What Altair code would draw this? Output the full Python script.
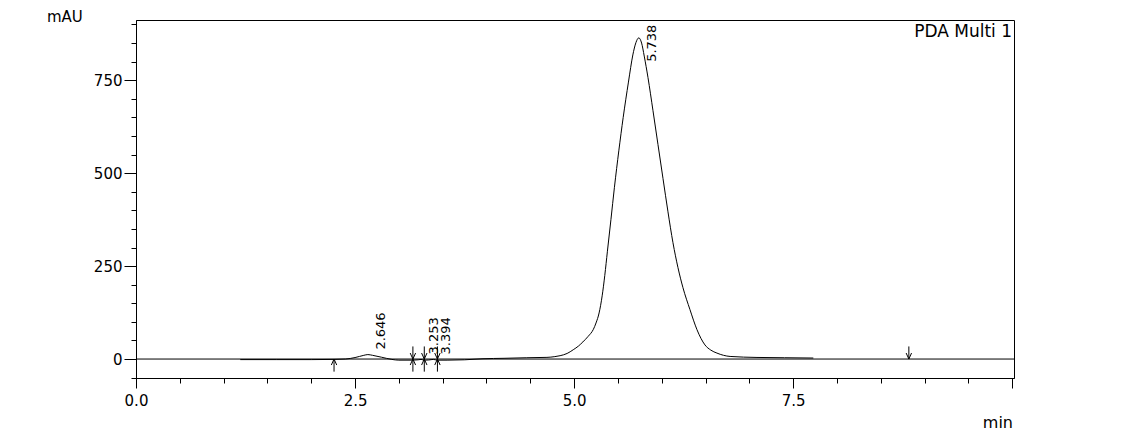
import altair as alt
import pandas as pd

# ---- data ----
times = [1.19, 1.6, 2.0, 2.26, 2.39, 2.50, 2.60, 2.646, 2.70, 2.80,
         2.92, 3.00, 3.16, 3.22, 3.253, 3.29, 3.34, 3.394, 3.44, 3.55,
         3.75, 3.96, 4.20, 4.46, 4.69, 4.78, 4.84, 4.92, 4.99, 5.05,
         5.10, 5.16, 5.22, 5.25, 5.285, 5.32, 5.35, 5.38, 5.42, 5.46,
         5.51, 5.56, 5.62, 5.67, 5.705, 5.738, 5.77, 5.80, 5.843, 5.90,
         5.957, 6.014, 6.071, 6.128, 6.185, 6.242, 6.322, 6.402, 6.493, 6.56,
         6.63, 6.78, 7.087, 7.40, 7.73]
signal = [-1.5, -1.5, -1.5, -1, 0, 4, 10, 12, 10, 5,
          -1, -3, -3, -2, -1, -3, -2.5, -1, -3, -3,
          -2, 0.8, 2, 3.5, 4.5, 6.5, 9, 15, 25, 35,
          46, 61, 80, 97, 124, 170, 225, 290, 375, 462,
          560, 650, 745, 818, 851, 864, 850, 815, 757, 668,
          577, 486, 396, 313, 246, 192, 133, 79, 38, 24,
          16, 7, 4.3, 3.5, 2.7]

peak_times = [2.646, 3.253, 3.394, 5.738]
peak_heights = [12, -1, -1, 864]
peak_labels = ["2.646", "3.253", "3.394", "5.738"]

down_marks = [3.16, 3.29, 3.44, 8.82]   # integration marks above baseline
up_marks = [2.26, 3.16, 3.29, 3.44]     # integration marks below baseline

x_ticks = [i * 0.5 for i in range(21)]
y_ticks = list(range(-50, 901, 50))
baseline_value = [0]

FONT = "DejaVu Sans"
X_DOMAIN = [0, 10.02]
Y_DOMAIN = [-51, 912]

sig_df = pd.DataFrame({"t": times, "v": signal})
peak_df = pd.DataFrame({"t": peak_times, "h": peak_heights, "label": peak_labels})
down_df = pd.DataFrame({"t": down_marks, "v": [0] * len(down_marks)})
up_df = pd.DataFrame({"t": up_marks, "v": [0] * len(up_marks)})
base_df = pd.DataFrame({"v": baseline_value})

xscale = alt.Scale(domain=X_DOMAIN, nice=False, zero=False)
yscale = alt.Scale(domain=Y_DOMAIN, nice=False, zero=False)

xaxis = alt.Axis(
    values=x_ticks,
    title="",
    grid=False,
    labelExpr="datum.value % 2.5 == 0 && datum.value < 10 ? format(datum.value, '.1f') : ''",
    tickSize={"condition": {"test": "datum.value % 2.5 == 0", "value": 10}, "value": 5},
    labelPadding=5,
    labelOverlap=False,
    labelFlush=False,
    labelFont=FONT,
    labelFontSize=15,
    labelColor="black",
    domainColor="black",
    tickColor="black",
)
yaxis = alt.Axis(
    values=y_ticks,
    title="",
    grid=False,
    labelExpr="datum.value % 250 == 0 ? format(datum.value, 'd') : ''",
    tickSize={"condition": {"test": "datum.value % 250 == 0", "value": 12}, "value": 5},
    labelPadding=2,
    labelOverlap=False,
    labelFlush=False,
    labelFont=FONT,
    labelFontSize=15,
    labelColor="black",
    domainColor="black",
    tickColor="black",
)


def X(field):
    return alt.X(field, type="quantitative", scale=xscale, axis=xaxis)


def Y(field):
    return alt.Y(field, type="quantitative", scale=yscale, axis=yaxis)


base_rule = alt.Chart(base_df).mark_rule(color="black", strokeWidth=1).encode(y=Y("v"))

line = alt.Chart(sig_df).mark_line(color="black", strokeWidth=1, interpolate="monotone").encode(
    x=X("t"), y=Y("v")
)

down_path = "M0,-2.1L0,0M-0.45,-1L0,0L0.45,-1"
up_path = "M0,2.1L0,0M-0.45,1L0,0L0.45,1"

down_pts = alt.Chart(down_df).mark_point(
    shape=down_path, size=144, filled=False, color="black", strokeWidth=1, opacity=1
).encode(x=X("t"), y=Y("v"))
up_pts = alt.Chart(up_df).mark_point(
    shape=up_path, size=144, filled=False, color="black", strokeWidth=1, opacity=1
).encode(x=X("t"), y=Y("v"))

labels = alt.Chart(peak_df).transform_calculate(
    ly="min(datum.h, 786)"
).mark_text(
    angle=270, align="left", baseline="middle", dx=5, dy=13,
    font=FONT, fontSize=13, color="black"
).encode(x=X("t"), y=Y("ly"), text="label:N")

mau = alt.Chart(base_df).mark_text(
    text="mAU", align="left", baseline="alphabetic", font=FONT, fontSize=15, color="black"
).encode(x=alt.value(-89), y=alt.value(2))
pda = alt.Chart(base_df).mark_text(
    text="PDA Multi 1", align="right", baseline="alphabetic", font=FONT, fontSize=17, color="black"
).encode(x=alt.value(876), y=alt.value(17))
mins = alt.Chart(base_df).mark_text(
    text="min", align="right", baseline="alphabetic", font=FONT, fontSize=16, color="black"
).encode(x=alt.value(877), y=alt.value(408))

chart = alt.layer(base_rule, line, down_pts, up_pts, labels, mau, pda, mins).properties(
    width=878,
    height=358,
    autosize=alt.AutoSizeParams(type="none"),
    padding={"left": 128, "top": 12, "right": 20, "bottom": 54},
    background="white",
).configure_view(stroke="black", strokeWidth=1)

chart.save("out.html", embed_options={"renderer": "svg", "actions": False})
